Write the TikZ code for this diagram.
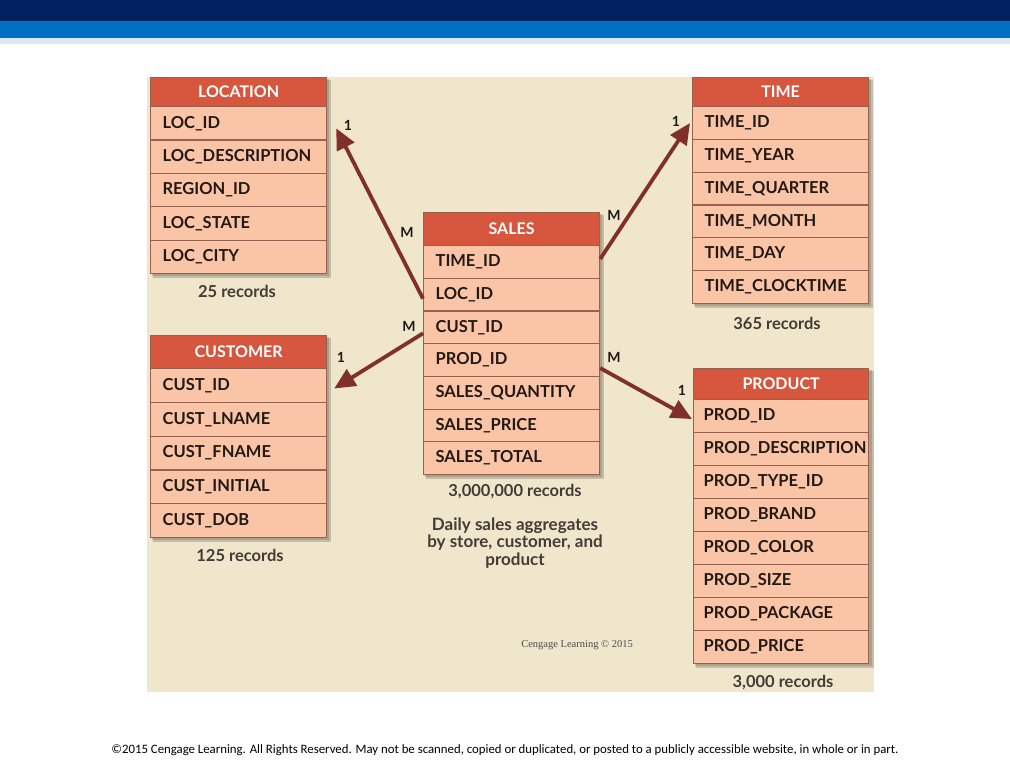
\documentclass[tikz,border=0pt]{standalone}
\usepackage{fontspec}
\setmainfont{Lato}
\newfontfamily\footfont{Carlito}
\newfontfamily\credfont{Liberation Serif}
\usetikzlibrary{arrows.meta}
\definecolor{navy}{RGB}{0,32,96}
\definecolor{bandblue}{RGB}{0,112,192}
\definecolor{paleband}{RGB}{220,230,240}
\definecolor{panel}{RGB}{239,230,203}
\definecolor{headc}{RGB}{214,86,62}
\definecolor{rowc}{RGB}{250,196,166}
\definecolor{sepc}{RGB}{150,98,80}
\definecolor{shadc}{RGB}{120,110,95}
\definecolor{arrc}{RGB}{128,48,42}
\definecolor{txtc}{RGB}{35,25,20}
\tikzset{
  rowbox/.style={draw=sepc, line width=1.2pt, fill=rowc, anchor=north west,
    minimum width=176, text width=152, inner xsep=12, align=left,
    font=\bfseries\fontsize{16.5}{16.5}\selectfont, text=txtc},
  headbox/.style={draw=sepc, line width=1.2pt, fill=headc, anchor=north west,
    minimum width=176, inner sep=0, align=center,
    font=\bfseries\fontsize{16}{16}\selectfont, text=white},
  reclabel/.style={font=\bfseries\fontsize{16.5}{16.5}\selectfont, text=txtc!85!white},
  card/.style={font=\bfseries\fontsize{14}{14}\selectfont, text=txtc},
  rel/.style={draw=arrc, line width=3.8pt, -{Triangle[length=21pt,width=19pt]}},
  shad/.style={fill=shadc, opacity=0.35}
}
\begin{document}
\begin{tikzpicture}[x=1pt,y=-1pt]
\useasboundingbox (0,0) rectangle (1010,760);
\fill[white] (0,0) rectangle (1010,760);
% banner
\fill[navy] (0,0) rectangle (1010,21);
\fill[bandblue] (0,21) rectangle (1010,38);
\fill[paleband] (0,38) rectangle (1010,44);
% panel
\fill[panel] (147,77) rectangle (874,692);

% shadows
\foreach \x/\t/\b in {150/77/273, 692/77/303, 150/335/537, 423/212/474, 693/368/663}{
  \fill[shad] (\x+3,\t+3) rectangle (\x+181,\b+5);
  \fill[shad] (\x+2,\t+2) rectangle (\x+179,\b+3);
}

% LOCATION
\node[headbox, minimum height=29] (loch) at (150,77) {LOCATION};
\foreach \t [count=\i] in {LOC\_ID, LOC\_DESCRIPTION, REGION\_ID, LOC\_STATE, LOC\_CITY}
  \node[rowbox, minimum height=33.4] (loc\i) at (150,{106+(\i-1)*33.4}) {\mbox{\t}};
\node[reclabel] (locrec) at (237,291) {25 records};

% TIME
\node[headbox, minimum height=29] (timeh) at (692,77) {TIME};
\foreach \t [count=\i] in {TIME\_ID, TIME\_YEAR, TIME\_QUARTER, TIME\_MONTH, TIME\_DAY, TIME\_CLOCKTIME}
  \node[rowbox, minimum height=32.8] (time\i) at (692,{106+(\i-1)*32.8}) {\mbox{\t}};
\node[reclabel] (timerec) at (777,323) {365 records};

% CUSTOMER
\node[headbox, minimum height=33] (custh) at (150,335) {CUSTOMER};
\foreach \t [count=\i] in {CUST\_ID, CUST\_LNAME, CUST\_FNAME, CUST\_INITIAL, CUST\_DOB}
  \node[rowbox, minimum height=33.8] (cust\i) at (150,{368+(\i-1)*33.8}) {\mbox{\t}};
\node[reclabel] (custrec) at (240,555) {125 records};

% SALES
\node[headbox, minimum height=33] (salesh) at (423,212) {SALES};
\foreach \t [count=\i] in {TIME\_ID, LOC\_ID, CUST\_ID, PROD\_ID, SALES\_QUANTITY, SALES\_PRICE, SALES\_TOTAL}
  \node[rowbox, minimum height=32.7] (sales\i) at (423,{245+(\i-1)*32.7}) {\mbox{\t}};
\node[reclabel] (salesrec) at (515,492) {3,000,000 records};
\node[reclabel, align=center, font=\bfseries\fontsize{17}{17.5}\selectfont] (salesnote) at (515,543)
  {Daily sales aggregates\\by store, customer, and\\product};

% PRODUCT
\node[headbox, minimum height=31, minimum width=175] (prodh) at (693,368) {PRODUCT};
\foreach \t [count=\i] in {PROD\_ID, PROD\_DESCRIPTION, PROD\_TYPE\_ID, PROD\_BRAND, PROD\_COLOR, PROD\_SIZE, PROD\_PACKAGE, PROD\_PRICE}
  \node[rowbox, minimum height=33, minimum width=175, inner xsep=10, text width=155] (prod\i) at (693,{399+(\i-1)*33}) {\mbox{\t}};
\node[reclabel] (prodrec) at (783,683) {3,000 records};

% relationships
\draw[rel] ([yshift=-4]sales2.west) -- ([xshift=9,yshift=-5]loc1.east);
\draw[rel] ([yshift=-6]sales3.west) -- ([xshift=7,yshift=-3]cust1.east);
\draw[rel] ([yshift=3]sales1.east) -- ([xshift=-2]time1.west);
\draw[rel] ([yshift=-8]sales4.east) -- ([xshift=-1,yshift=-3]prod1.west);

% cardinalities
\node[card] (c1) at (348,125) {1};
\node[card] (c2) at (407,232) {M};
\node[card] (c3) at (409,326) {M};
\node[card] (c4) at (341,357) {1};
\node[card] (c5) at (676,121) {1};
\node[card] (c6) at (614,215) {M};
\node[card] (c7) at (614,357) {M};
\node[card] (c8) at (682,390) {1};

% credits
\node[font=\credfont\fontsize{10.5}{10.5}\selectfont, text=black!70] (cred) at (577,645) {Cengage Learning © 2015};
\node[font=\footfont\fontsize{12.8}{12.8}\selectfont, text=black] (foot) at (505,750)
  {©2015 Cengage Learning. All Rights Reserved. May not be scanned, copied or duplicated, or posted to a publicly accessible website, in whole or in part.};
\end{tikzpicture}
\end{document}
